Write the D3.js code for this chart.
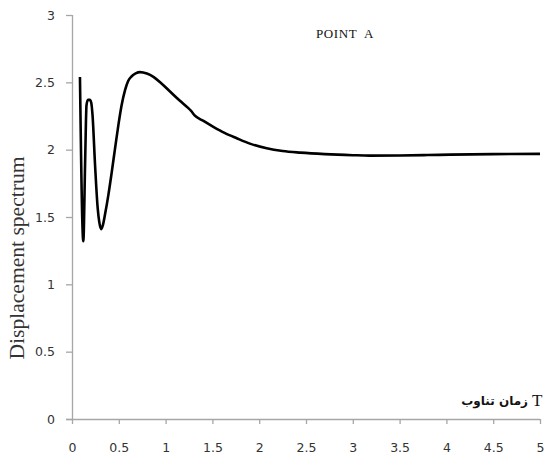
<!DOCTYPE html>
<html><head><meta charset="utf-8">
<script src="https://cdn.jsdelivr.net/npm/d3@7"></script>
<style>body{margin:0;background:#fff}svg{display:block}</style>
</head><body>
<script>
const periodT = [0.085,0.121,0.14,0.155,0.17,0.19,0.205,0.219,0.246,0.274,0.292,0.31,0.33,0.353,0.39,0.424,0.46,0.495,0.53,0.566,0.60,0.638,0.68,0.727,0.80,0.87,0.95,1.05,1.15,1.24,1.27,1.31,1.40,1.51,1.63,1.76,1.90,2.08,2.25,2.44,2.7,3.0,3.18,3.5,3.8,4.04,4.5,5.0];
const spectrum = [2.54,1.32,1.90,2.33,2.37,2.37,2.35,2.26,1.89,1.57,1.46,1.41,1.44,1.52,1.67,1.83,2.01,2.18,2.33,2.44,2.51,2.545,2.566,2.576,2.565,2.54,2.495,2.43,2.365,2.31,2.29,2.255,2.215,2.17,2.125,2.085,2.045,2.01,1.99,1.978,1.967,1.959,1.956,1.957,1.96,1.963,1.967,1.969];
const xTicks = [0,0.5,1,1.5,2,2.5,3,3.5,4,4.5,5];
const yTicks = [0,0.5,1,1.5,2,2.5,3];
const yTitle = "Displacement spectrum";
const xTitleFa = "زمان تناوب";
const xTitleT = "T";
const chartTitle = "POINT  A";

const W=547,H=460;
const svg=d3.select("body").append("svg").attr("width",W).attr("height",H);
const x=d3.scaleLinear().domain([0,5]).range([72,540]);
const y=d3.scaleLinear().domain([0,3]).range([419,15]);

const ax=svg.append("g").attr("transform","translate(0,419)")
  .call(d3.axisBottom(x).tickValues(xTicks).tickSize(5).tickSizeOuter(0).tickPadding(19).tickFormat(d=>d));
const ay=svg.append("g").attr("transform","translate(72,0)")
  .call(d3.axisLeft(y).tickValues(yTicks).tickSize(6).tickSizeOuter(0).tickPadding(11).tickFormat(d=>d));
[ax,ay].forEach(g=>{
  g.selectAll("path,line").attr("stroke","#a6a6a6").attr("stroke-width",1.3);
  g.selectAll("text").attr("font-family","'DejaVu Sans', Verdana, sans-serif").attr("font-size",12.5).attr("fill","#333");
});
ax.select(".domain").attr("d","M66,0.5H540");
ay.select(".domain").attr("d","M0.5,15V419");

svg.append("path").datum(periodT.map((t,i)=>[t,spectrum[i]]))
  .attr("fill","none").attr("stroke","#000").attr("stroke-width",2.6).attr("stroke-linejoin","round")
  .attr("d",d3.line().x(d=>x(d[0])).y(d=>y(d[1])).curve(d3.curveMonotoneX));

svg.append("text").attr("transform","translate(24,258) rotate(-90)").attr("text-anchor","middle")
  .attr("font-family","'Liberation Serif','Times New Roman',serif").attr("font-size",20)
  .attr("textLength",203).attr("lengthAdjust","spacingAndGlyphs").attr("fill","#333").text(yTitle);
svg.append("text").attr("x",345).attr("y",38).attr("text-anchor","middle")
  .attr("font-family","'Liberation Serif','Times New Roman',serif").attr("font-size",13).attr("letter-spacing",0.6).attr("fill","#111")
  .style("white-space","pre").text(chartTitle);
svg.append("text").attr("x",528).attr("y",405).attr("text-anchor","end")
  .attr("font-family","'DejaVu Sans', sans-serif").attr("font-weight","bold").attr("font-size",12).attr("fill","#111").text(xTitleFa);
svg.append("text").attr("x",532).attr("y",406)
  .attr("font-family","'Liberation Serif','Times New Roman',serif").attr("font-size",17).attr("fill","#111").text(xTitleT);
</script>
</body></html>
